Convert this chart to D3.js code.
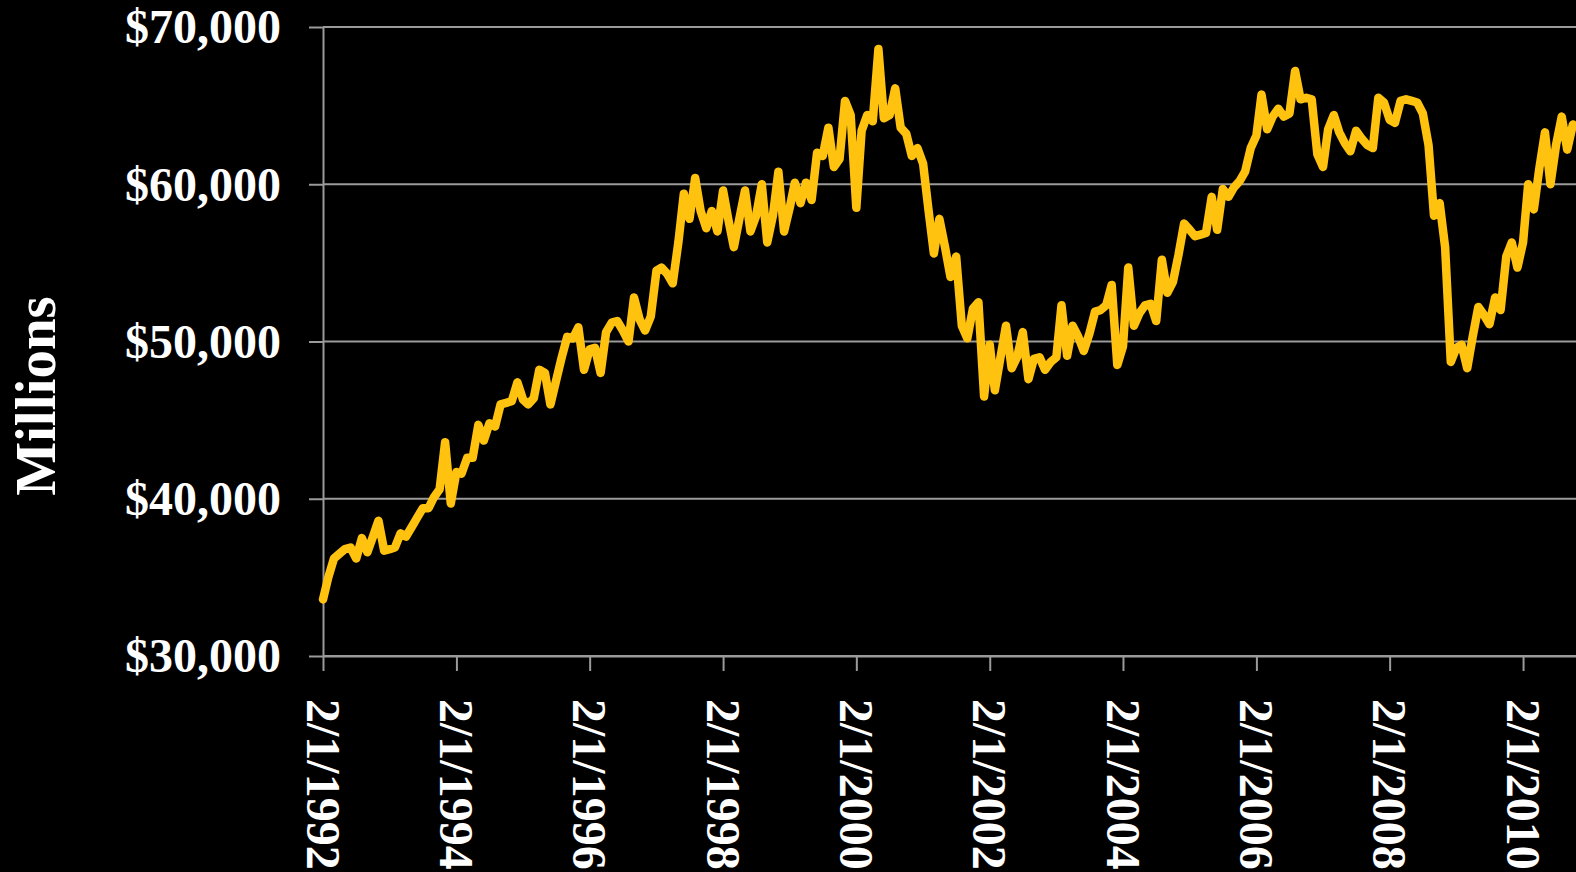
<!DOCTYPE html>
<html>
<head>
<meta charset="utf-8">
<script src="https://cdn.jsdelivr.net/npm/d3@7"></script>
<style>
  html, body { margin: 0; padding: 0; background: #000; }
  svg { display: block; }
</style>
</head>
<body>
<svg id="chart"></svg>
<script>
// monthly values, first point is 2/1/1992
var startMonth = new Date(1992, 1, 1);
var values = [
  33600, 35000, 36200, 36500, 36800, 36900, 36200, 37500, 36600, 37600, 38600, 36700,
  36800, 36900, 37800, 37600, 38200, 38800, 39400, 39400, 40100, 40600, 43600, 39700,
  41700, 41600, 42600, 42600, 44700, 43700, 44800, 44600, 46000, 46100, 46200, 47400,
  46300, 46000, 46400, 48200, 48000, 46000, 47500, 49000, 50300, 50200, 50900, 48200,
  49500, 49600, 48000, 50600, 51200, 51300, 50700, 50000, 52800, 51400, 50700, 51600,
  54500, 54700, 54300, 53700, 56300, 59400, 57800, 60400, 58300, 57200, 58300, 57000,
  59600, 57800, 56000, 57800, 59600, 57000, 58000, 60000, 56300, 58000, 60800, 57000,
  58500, 60100, 58800, 60100, 59000, 62000, 61800, 63600, 61100, 61600, 65300, 64400,
  58500, 63400, 64400, 64000, 68600, 64200, 64400, 66100, 63600, 63200, 61800, 62300,
  61300, 58500, 55600, 57800, 56000, 54100, 55400, 51000, 50200, 52100, 52500, 46500,
  49800, 46900, 49000, 51000, 48300, 49000, 50600, 47600, 48900, 49000, 48200, 48700,
  49000, 52300, 49100, 51000, 50300, 49400, 50500, 51900, 52000, 52300, 53600, 48500,
  49700, 54700, 51000, 51800, 52300, 52400, 51300, 55200, 53100, 53800, 55500, 57500,
  57100, 56700, 56800, 56900, 59200, 57100, 59700, 59200, 59800, 60200, 60800, 62300,
  63100, 65700, 63500, 64300, 64800, 64300, 64500, 67200, 65400, 65500, 65400, 61900,
  61100, 63500, 64400, 63300, 62600, 62100, 63400, 62900, 62500, 62300, 65500, 65200,
  64100, 63900, 65300, 65400, 65300, 65200, 64500, 62500, 58000, 58800, 56000, 48700,
  49600, 49800, 48300, 50300, 52200, 51700, 51100, 52800, 52000, 55400, 56300, 54700,
  56300, 60000, 58400, 61000, 63300, 60000, 62500, 64300, 62200, 63800
];
var yTicks = [30000, 40000, 50000, 60000, 70000];
var xTickYears = [1992, 1994, 1996, 1998, 2000, 2002, 2004, 2006, 2008, 2010];
var yTitle = "Millions";

var screen = { width: 1576, height: 872 };
var plot = { left: 323, top: 27, bottom: 656, twoYears: 133.33 };

var font = "'Liberation Serif', 'Times New Roman', serif";
var gridColor = "#9a9a9a";

var svg = d3.select("#chart")
  .attr("width", screen.width)
  .attr("height", screen.height);

var data = values.map(function(v, i) {
  return { date: d3.timeMonth.offset(startMonth, i), value: v };
});

var xScale = d3.scaleTime()
  .domain([new Date(1992, 1, 1), new Date(2012, 1, 1)])
  .range([plot.left, plot.left + plot.twoYears * 10]);

var yScale = d3.scaleLinear()
  .domain([30000, 70000])
  .range([plot.bottom, plot.top]);

// gridlines
svg.append("g")
  .selectAll("line")
  .data(yTicks)
  .enter()
  .append("line")
  .attr("x1", plot.left)
  .attr("x2", screen.width)
  .attr("y1", function(d) { return yScale(d); })
  .attr("y2", function(d) { return yScale(d); })
  .attr("stroke", gridColor)
  .attr("stroke-width", 2);

// y axis
var yAxis = d3.axisLeft(yScale)
  .tickValues(yTicks)
  .tickSize(14)
  .tickSizeOuter(0)
  .tickPadding(28)
  .tickFormat(d3.format("$,"));

var yG = svg.append("g")
  .attr("transform", "translate(" + plot.left + ",0)")
  .call(yAxis)
  .attr("color", gridColor)
  .attr("font-family", font)
  .attr("font-size", 48)
  .attr("font-weight", "bold");
yG.selectAll("line").attr("stroke-width", 2);
yG.select(".domain").attr("stroke-width", 2);
yG.selectAll("text").attr("fill", "#fff").attr("dy", "0.33em");

// x axis
var xAxis = d3.axisBottom(xScale)
  .tickValues(xTickYears.map(function(y) { return new Date(y, 1, 1); }))
  .tickSize(15)
  .tickSizeOuter(0)
  .tickFormat(d3.timeFormat("%-m/%-d/%Y"));

var xG = svg.append("g")
  .attr("transform", "translate(0," + plot.bottom + ")")
  .call(xAxis)
  .attr("color", gridColor)
  .attr("font-family", font)
  .attr("font-size", 48)
  .attr("font-weight", "bold");
xG.selectAll("line").attr("stroke-width", 2);
xG.select(".domain").attr("stroke-width", 2);
xG.selectAll("text")
  .attr("fill", "#fff")
  .attr("transform", "rotate(90)")
  .attr("x", 43)
  .attr("y", 0)
  .attr("dy", "0.35em")
  .style("text-anchor", "start");

// y title
svg.append("text")
  .attr("transform", "translate(35," + 396 + ") rotate(-90)")
  .attr("dy", "0.35em")
  .attr("text-anchor", "middle")
  .attr("font-family", font)
  .attr("font-size", 57)
  .attr("font-weight", "bold")
  .attr("fill", "#fff")
  .text(yTitle);

// the line
var line = d3.line()
  .x(function(d) { return xScale(d.date); })
  .y(function(d) { return yScale(d.value); });

svg.append("path")
  .datum(data)
  .attr("d", line)
  .attr("fill", "none")
  .attr("stroke", "#ffc20e")
  .attr("stroke-width", 8.5)
  .attr("stroke-linejoin", "round")
  .attr("stroke-linecap", "round");
</script>
</body>
</html>
